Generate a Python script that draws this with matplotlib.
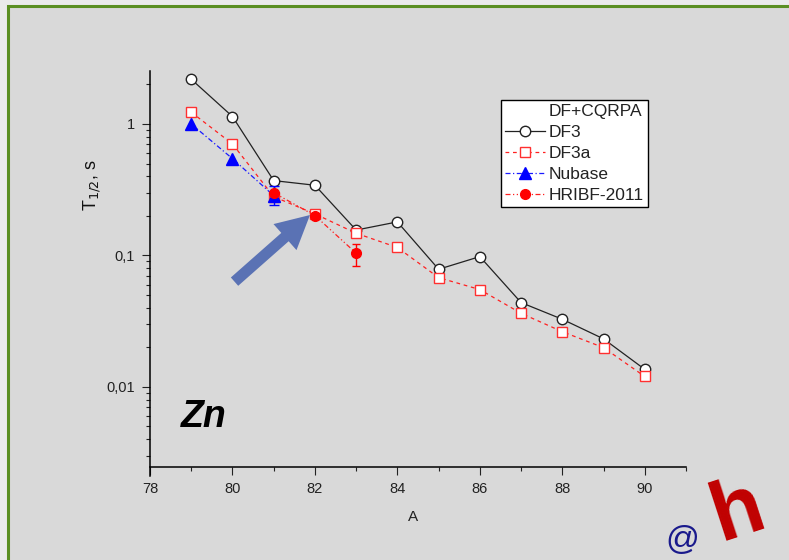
import matplotlib
matplotlib.use("Agg")
import matplotlib.pyplot as plt
from matplotlib.lines import Line2D
from matplotlib.patches import Rectangle
import numpy as np

plt.rcParams['font.family'] = ['Liberation Sans', 'DejaVu Sans']

# ---- data ----
A = [79, 80, 81, 82, 83, 84, 85, 86, 87, 88, 89, 90]
df3 = [2.19, 1.14, 0.371, 0.342, 0.156, 0.180, 0.0785, 0.098, 0.0438, 0.0327, 0.0232, 0.0136]
df3a = [1.23, 0.705, 0.28, 0.207, 0.1475, 0.115, 0.0678, 0.055, 0.0363, 0.0263, 0.0199, 0.0120]
nubase_A = [79, 80, 81]
nubase = [1.0, 0.545, 0.285]
nubase_err_lo = [0.0, 0.0, 0.045]
nubase_err_hi = [0.0, 0.0, 0.05]
hribf_A = [81, 82, 83]
hribf = [0.30, 0.201, 0.104]
hribf_err_lo = [0.0, 0.0, 0.0205]
hribf_err_hi = [0.0, 0.0, 0.019]
xticks = [78, 80, 82, 84, 86, 88, 90]
yticks = [0.01, 0.1, 1]
ytick_labels = ['0,01', '0,1', '1']
legend_labels = ['DF+CQRPA', 'DF3', 'DF3a', 'Nubase', 'HRIBF-2011']

W, H = 789, 560
fig = plt.figure(figsize=(W / 100, H / 100), dpi=100, facecolor='#ebebeb')

# slide frame
frame = Rectangle((8 / W, -0.1), 1.2, 1.1 - 6 / H, transform=fig.transFigure,
                  facecolor='#d9d9d9', edgecolor='#5b8f22', linewidth=2.2, zorder=-10)
fig.add_artist(frame)

ax = fig.add_axes([150 / W, 1 - 476 / H, 536 / W, 405 / H])
ax.set_zorder(1)
ax.set_facecolor('none')
ax.set_yscale('log')
ax.set_xlim(78, 91)
ax.set_ylim(0.0021, 2.53)

for s in ['top', 'right']:
    ax.spines[s].set_visible(False)
ax.spines['bottom'].set_position(('data', 0.00248))
ax.spines['left'].set_linewidth(1.1)
ax.spines['bottom'].set_linewidth(1.1)

ax.set_xticks(xticks)
ax.set_xticks([79, 81, 83, 85, 87, 89, 91], minor=True)
ax.set_yticks(yticks)
ax.set_yticklabels(ytick_labels)
ax.yaxis.set_minor_locator(matplotlib.ticker.LogLocator(base=10, subs=np.arange(2, 10)))
ax.yaxis.set_minor_formatter(matplotlib.ticker.NullFormatter())
ax.tick_params(which='major', length=6, width=0.8, labelsize=10.5, pad=5, color='#222222', labelcolor='#222222')
ax.tick_params(which='minor', length=3, width=0.8, color='#222222')

# series
ax.plot(A, df3, color='#222222', lw=0.9, ls='-', marker='o', ms=7.5,
        mfc='white', mec='#222222', mew=1.0, zorder=3)
ax.plot(A, df3a, color='#ff2020', lw=0.9, ls=(0, (3, 3)), marker='s', ms=6.5,
        mfc='white', mec='#ff3030', mew=1.0, zorder=4)
ax.plot(nubase_A, nubase, color='#1a1aff', lw=0.9, ls=(0, (4, 2, 1, 2)), marker='^', ms=8,
        mfc='#0000ff', mec='#0000ff', zorder=5)
ni = [i for i, e in enumerate(nubase_err_lo) if e > 0 or nubase_err_hi[i] > 0]
ax.errorbar([nubase_A[i] for i in ni], [nubase[i] for i in ni],
            yerr=[[nubase_err_lo[i] for i in ni], [nubase_err_hi[i] for i in ni]],
            fmt='none', ecolor='#0000ff', elinewidth=1.0, capsize=3.5, capthick=1.0, zorder=5)
ax.plot(hribf_A, hribf, color='#ff2020', lw=0.9, ls=(0, (4, 2, 1, 2, 1, 2)), marker='o', ms=7,
        mfc='#ff0000', mec='#ff0000', zorder=6)
hi = [i for i, e in enumerate(hribf_err_lo) if e > 0 or hribf_err_hi[i] > 0]
ax.errorbar([hribf_A[i] for i in hi], [hribf[i] for i in hi],
            yerr=[[hribf_err_lo[i] for i in hi], [hribf_err_hi[i] for i in hi]],
            fmt='none', ecolor='#ff0000', elinewidth=1.0, capsize=3.0, capthick=1.0, zorder=6)

# arrow
ax.annotate('', xy=(81.88, 0.203), xytext=(80.05, 0.0632),
            arrowprops=dict(width=8, headwidth=25, headlength=24, shrink=0,
                            facecolor='#5a72b4', edgecolor='none'), zorder=7)

# legend
handles = [
    Line2D([], [], color='none'),
    Line2D([], [], color='#222222', lw=0.9, marker='o', ms=7.5, mfc='white', mec='#222222'),
    Line2D([], [], color='#ff2020', lw=0.9, ls=(0, (3, 3)), marker='s', ms=6.5, mfc='white', mec='#ff3030'),
    Line2D([], [], color='#1a1aff', lw=0.9, ls=(0, (4, 2, 1, 2)), marker='^', ms=8, mfc='#0000ff', mec='#0000ff'),
    Line2D([], [], color='#ff2020', lw=0.9, ls=(0, (4, 2, 1, 2, 1, 2)), marker='o', ms=7, mfc='#ff0000', mec='#ff0000'),
]
leg = ax.legend(handles, legend_labels, loc='upper left',
                bbox_to_anchor=(501 / W, 1 - 100 / H), bbox_transform=fig.transFigure,
                fontsize=12.5, frameon=True, fancybox=False, borderaxespad=0,
                handlelength=2.3, handletextpad=0.25, labelspacing=0.34, borderpad=0.22)
leg.get_frame().set_edgecolor('black')
leg.get_frame().set_linewidth(1.0)
leg.get_frame().set_facecolor('white')
leg.get_frame().set_alpha(1)
leg.set_zorder(10)
for t in leg.get_texts():
    t.set_color('#222222')

# labels
fig.text(92 / W, 1 - 185 / H, r'T$_{1/2}$, s', rotation=90, ha='center', va='center',
         fontsize=13, color='#111111')
fig.text(413 / W, 1 - 517 / H, 'A', ha='center', va='center', fontsize=11, color='#222222')
fig.text(181 / W, 1 - 427 / H, 'Zn', ha='left', va='baseline', fontsize=27,
         fontweight='bold', fontstyle='italic', color='black')

# decorative logo fragments
fig.text(738 / W, 1 - 512 / H, 'h', ha='center', va='center', fontsize=60, fontweight='bold',
         color='#c00000', rotation=18)
fig.text(682 / W, 1 - 540 / H, '@', ha='center', va='center', fontsize=24,
         color='#1a1a8c')

fig.savefig('out.png', dpi=100, facecolor=fig.get_facecolor())
